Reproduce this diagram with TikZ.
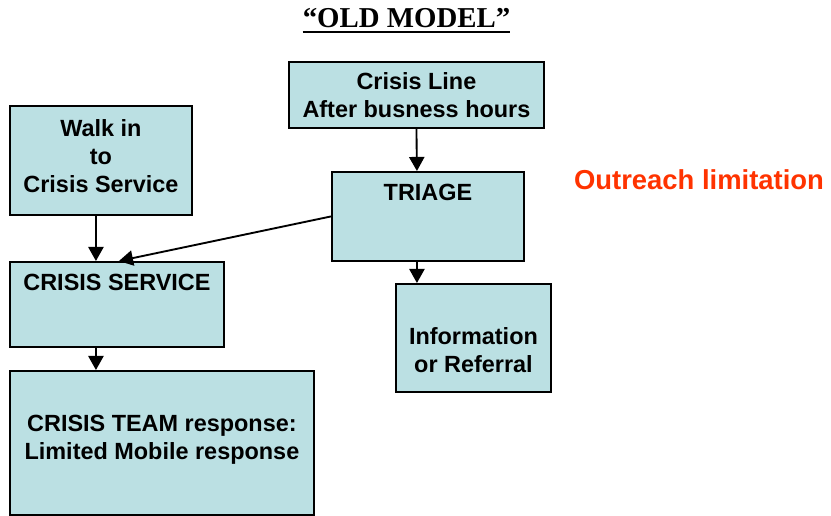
\documentclass[tikz,border=0pt]{standalone}
\usepackage{fontspec}
\setmainfont{Liberation Serif}
\setsansfont{Liberation Sans}
\usetikzlibrary{arrows.meta,positioning,calc}
\definecolor{boxBlue}{HTML}{BBE0E3}
\definecolor{alertRed}{HTML}{FF3300}

\begin{document}
\begin{tikzpicture}[x=0.03cm, y=-0.03cm,
  box/.style={rectangle, draw=black, line width=1.6pt, fill=boxBlue, anchor=north west, align=center, inner sep=0pt, font=\sffamily\bfseries\fontsize{20}{24}\selectfont},
  lifted/.style={execute at end node={\rule[-#1]{0pt}{0pt}}},
  boxtext/.style={inner sep=0pt, font=\sffamily\bfseries\fontsize{20}{24}\selectfont},
  flow/.style={-{Triangle[length=12pt, width=13pt]}, line width=1.6pt}
]
\useasboundingbox (0,0) rectangle (831,516);
\node[inner sep=0pt, font=\rmfamily\bfseries\fontsize{24.6}{28}\selectfont] (title) at (406.5,18) {“OLD MODEL”};
\draw[line width=1.8pt] ($(title.base west)+(0,5)$) -- ($(title.base east)+(0,5)$);
\node[box, lifted=8pt, minimum width=5.46cm, minimum height=3.27cm] (walkin) at (9,105) {Walk in\\to\\Crisis Service};
\node[box, minimum width=7.65cm, minimum height=1.98cm] (crisisline) at (288,61) {Crisis Line\\After busness hours};
\node[box, minimum width=5.76cm, minimum height=2.67cm] (triage) at (331,171) {};
\node[boxtext, below=11pt of triage.north] (triagetext) {TRIAGE};
\node[box, lifted=5pt, minimum width=4.65cm, minimum height=3.24cm] (info) at (395,283) {\strut\\Information\\or Referral};
\node[box, minimum width=6.42cm, minimum height=2.55cm] (service) at (9,261) {};
\node[boxtext, below=11pt of service.north] (servicetext) {CRISIS SERVICE};
\node[box, lifted=9.5pt, minimum width=9.12cm, minimum height=4.32cm] (team) at (9,370) {CRISIS TEAM response:\\Limited Mobile response};
\node[inner sep=0pt, text=alertRed, font=\sffamily\bfseries\fontsize{23.4}{28}\selectfont] (outreach) at (699,180) {Outreach limitation};
\draw[flow] ($(walkin.south)+(-5,0)$) -- ($(service.north)+(-21,0)$);
\draw[flow] (crisisline.south) -- ($(triage.north)+(-11,0)$);
\draw[flow] (triage.west) -- ($(service.north)+(2,0)$);
\draw[flow] ($(triage.south)+(-11,0)$) -- ($(info.north)+(-56.5,0)$);
\draw[flow] ($(service.south)+(-21,0)$) -- ($(team.north)+(-66,0)$);
\end{tikzpicture}
\end{document}
